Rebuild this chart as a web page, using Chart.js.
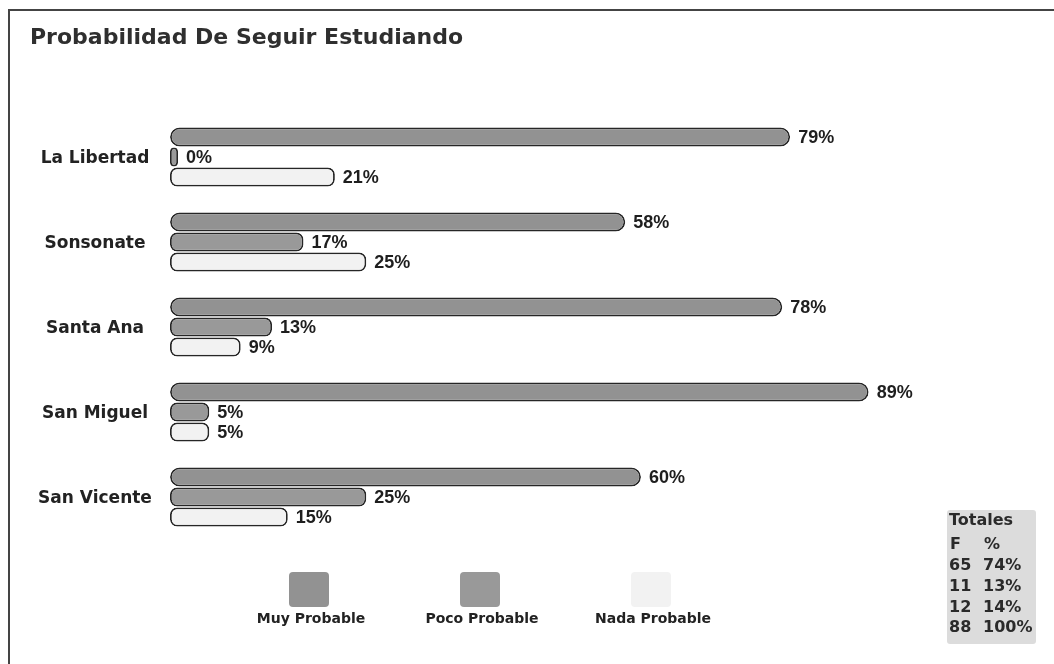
<!DOCTYPE html>
<html>
<head>
<meta charset="utf-8">
<script src="https://cdn.jsdelivr.net/npm/chart.js@4.4.0/dist/chart.umd.min.js"></script>
<style>
body { margin: 0; background: #fff; }
canvas { display: block; }
</style>
</head>
<body>
<canvas id="chart" width="1054" height="664"></canvas>
<script>
// departamentos y porcentajes
var departamentos = ['La Libertad', 'Sonsonate', 'Santa Ana', 'San Miguel', 'San Vicente'];
var muyProbable  = [79, 58, 78, 89, 60];
var pocoProbable = [0, 17, 13, 5, 25];
var nadaProbable = [21, 25, 9, 5, 15];
var seriesNames  = ['Muy Probable', 'Poco Probable', 'Nada Probable'];
var seriesColors = ['#929292', '#999999', '#f2f2f2'];

// cuadro de totales
var totalesTitulo = 'Totales';
var totalesCols = ['F', '%'];
var totalesF   = ['65', '11', '12', '88'];
var totalesPct = ['74%', '13%', '14%', '100%'];

// marco (solo arriba e izquierda se ven)
var framePlugin = {
    id: 'frame',
    beforeDraw: function(chart) {
        var ctx = chart.ctx;
        ctx.save();
        ctx.fillStyle = '#fff';
        ctx.fillRect(0, 0, chart.width, chart.height);
        ctx.strokeStyle = '#444';
        ctx.lineWidth = 2;
        ctx.beginPath();
        ctx.moveTo(9, chart.height);
        ctx.lineTo(9, 10);
        ctx.lineTo(chart.width, 10);
        ctx.stroke();
        ctx.restore();
    }
};

// nombres de departamento a la izquierda
var categoryPlugin = {
    id: 'categoryLabels',
    afterDraw: function(chart) {
        var ctx = chart.ctx;
        var yScale = chart.scales.y;
        ctx.save();
        ctx.font = 'bold 17px "DejaVu Sans"';
        ctx.fillStyle = '#222';
        ctx.textAlign = 'center';
        ctx.textBaseline = 'middle';
        chart.data.labels.forEach(function(lbl, i) {
            ctx.fillText(lbl, 95, yScale.getPixelForValue(i) + 2);
        });
        ctx.restore();
    }
};

// porcentajes al final de cada barra
var valuePlugin = {
    id: 'valueLabels',
    afterDatasetsDraw: function(chart) {
        var ctx = chart.ctx;
        ctx.save();
        ctx.font = 'bold 18px "Liberation Sans"';
        ctx.fillStyle = '#1e1e1e';
        ctx.textAlign = 'left';
        ctx.textBaseline = 'middle';
        chart.data.datasets.forEach(function(ds, d) {
            var meta = chart.getDatasetMeta(d);
            meta.data.forEach(function(bar, i) {
                ctx.fillText(ds.data[i] + '%', bar.x + 8, bar.y + 1);
            });
        });
        ctx.restore();
    }
};

// leyenda: cuadro arriba, texto abajo
var legendPlugin = {
    id: 'bottomLegend',
    afterDraw: function(chart) {
        var ctx = chart.ctx;
        ctx.save();
        ctx.font = 'bold 14px "DejaVu Sans"';
        ctx.textAlign = 'center';
        ctx.textBaseline = 'middle';
        chart.data.datasets.forEach(function(ds, i) {
            var cx = 309 + i * 171;
            ctx.fillStyle = ds.backgroundColor;
            ctx.beginPath();
            ctx.roundRect(cx - 20, 572, 40, 35, 4);
            ctx.fill();
            ctx.fillStyle = '#222';
            ctx.fillText(ds.label, cx + 2, 619);
        });
        ctx.restore();
    }
};

// cuadro de totales abajo a la derecha
var totalsPlugin = {
    id: 'totals',
    afterDraw: function(chart) {
        var ctx = chart.ctx;
        ctx.save();
        ctx.fillStyle = '#dcdcdc';
        ctx.beginPath();
        ctx.roundRect(947, 510, 89, 134, 3);
        ctx.fill();
        ctx.fillStyle = '#2a2a2a';
        ctx.textAlign = 'left';
        ctx.textBaseline = 'middle';
        ctx.font = 'bold 16px "DejaVu Sans"';
        ctx.fillText(totalesTitulo, 949, 521);
        ctx.fillText(totalesCols[0], 950, 545);
        ctx.fillText(totalesCols[1], 984, 545);
        for (var i = 0; i < totalesF.length; i++) {
            var y = 566 + i * 20.7;
            ctx.fillText(totalesF[i], 949, y);
            ctx.fillText(totalesPct[i], 983, y);
        }
        ctx.restore();
    }
};

var ctx = document.getElementById('chart').getContext('2d');
var chart = new Chart(ctx, {
    type: 'bar',
    data: {
        labels: departamentos,
        datasets: [
            {
                label: seriesNames[0],
                data: muyProbable,
                backgroundColor: seriesColors[0],
                borderColor: '#262626',
                borderWidth: 1.8,
                borderRadius: 10,
                borderSkipped: false
            },
            {
                label: seriesNames[1],
                data: pocoProbable,
                backgroundColor: seriesColors[1],
                borderColor: '#262626',
                borderWidth: 1.8,
                borderRadius: 7,
                borderSkipped: false,
                minBarLength: 8
            },
            {
                label: seriesNames[2],
                data: nadaProbable,
                backgroundColor: seriesColors[2],
                borderColor: '#262626',
                borderWidth: 1.8,
                borderRadius: 7,
                borderSkipped: false
            }
        ]
    },
    options: {
        indexAxis: 'y',
        responsive: false,
        animation: false,
        devicePixelRatio: 1,
        categoryPercentage: 0.706,
        barPercentage: 0.95,
        layout: {
            padding: { left: 30, right: 99, top: 10, bottom: 124.5 }
        },
        scales: {
            x: {
                display: false,
                min: 0,
                max: 100
            },
            y: {
                ticks: { display: false },
                grid: { display: false, drawTicks: false },
                border: { display: false },
                afterFit: function(scale) { scale.width = 140; }
            }
        },
        plugins: {
            legend: { display: false },
            tooltip: { enabled: false },
            title: {
                display: true,
                text: 'Probabilidad De Seguir Estudiando',
                align: 'start',
                color: '#2f2f2f',
                font: { family: '"DejaVu Sans"', size: 22, weight: 'bold', lineHeight: 1.2 },
                padding: { top: 15, bottom: 63.1 }
            }
        }
    },
    plugins: [framePlugin, categoryPlugin, valuePlugin, legendPlugin, totalsPlugin]
});
</script>
</body>
</html>
